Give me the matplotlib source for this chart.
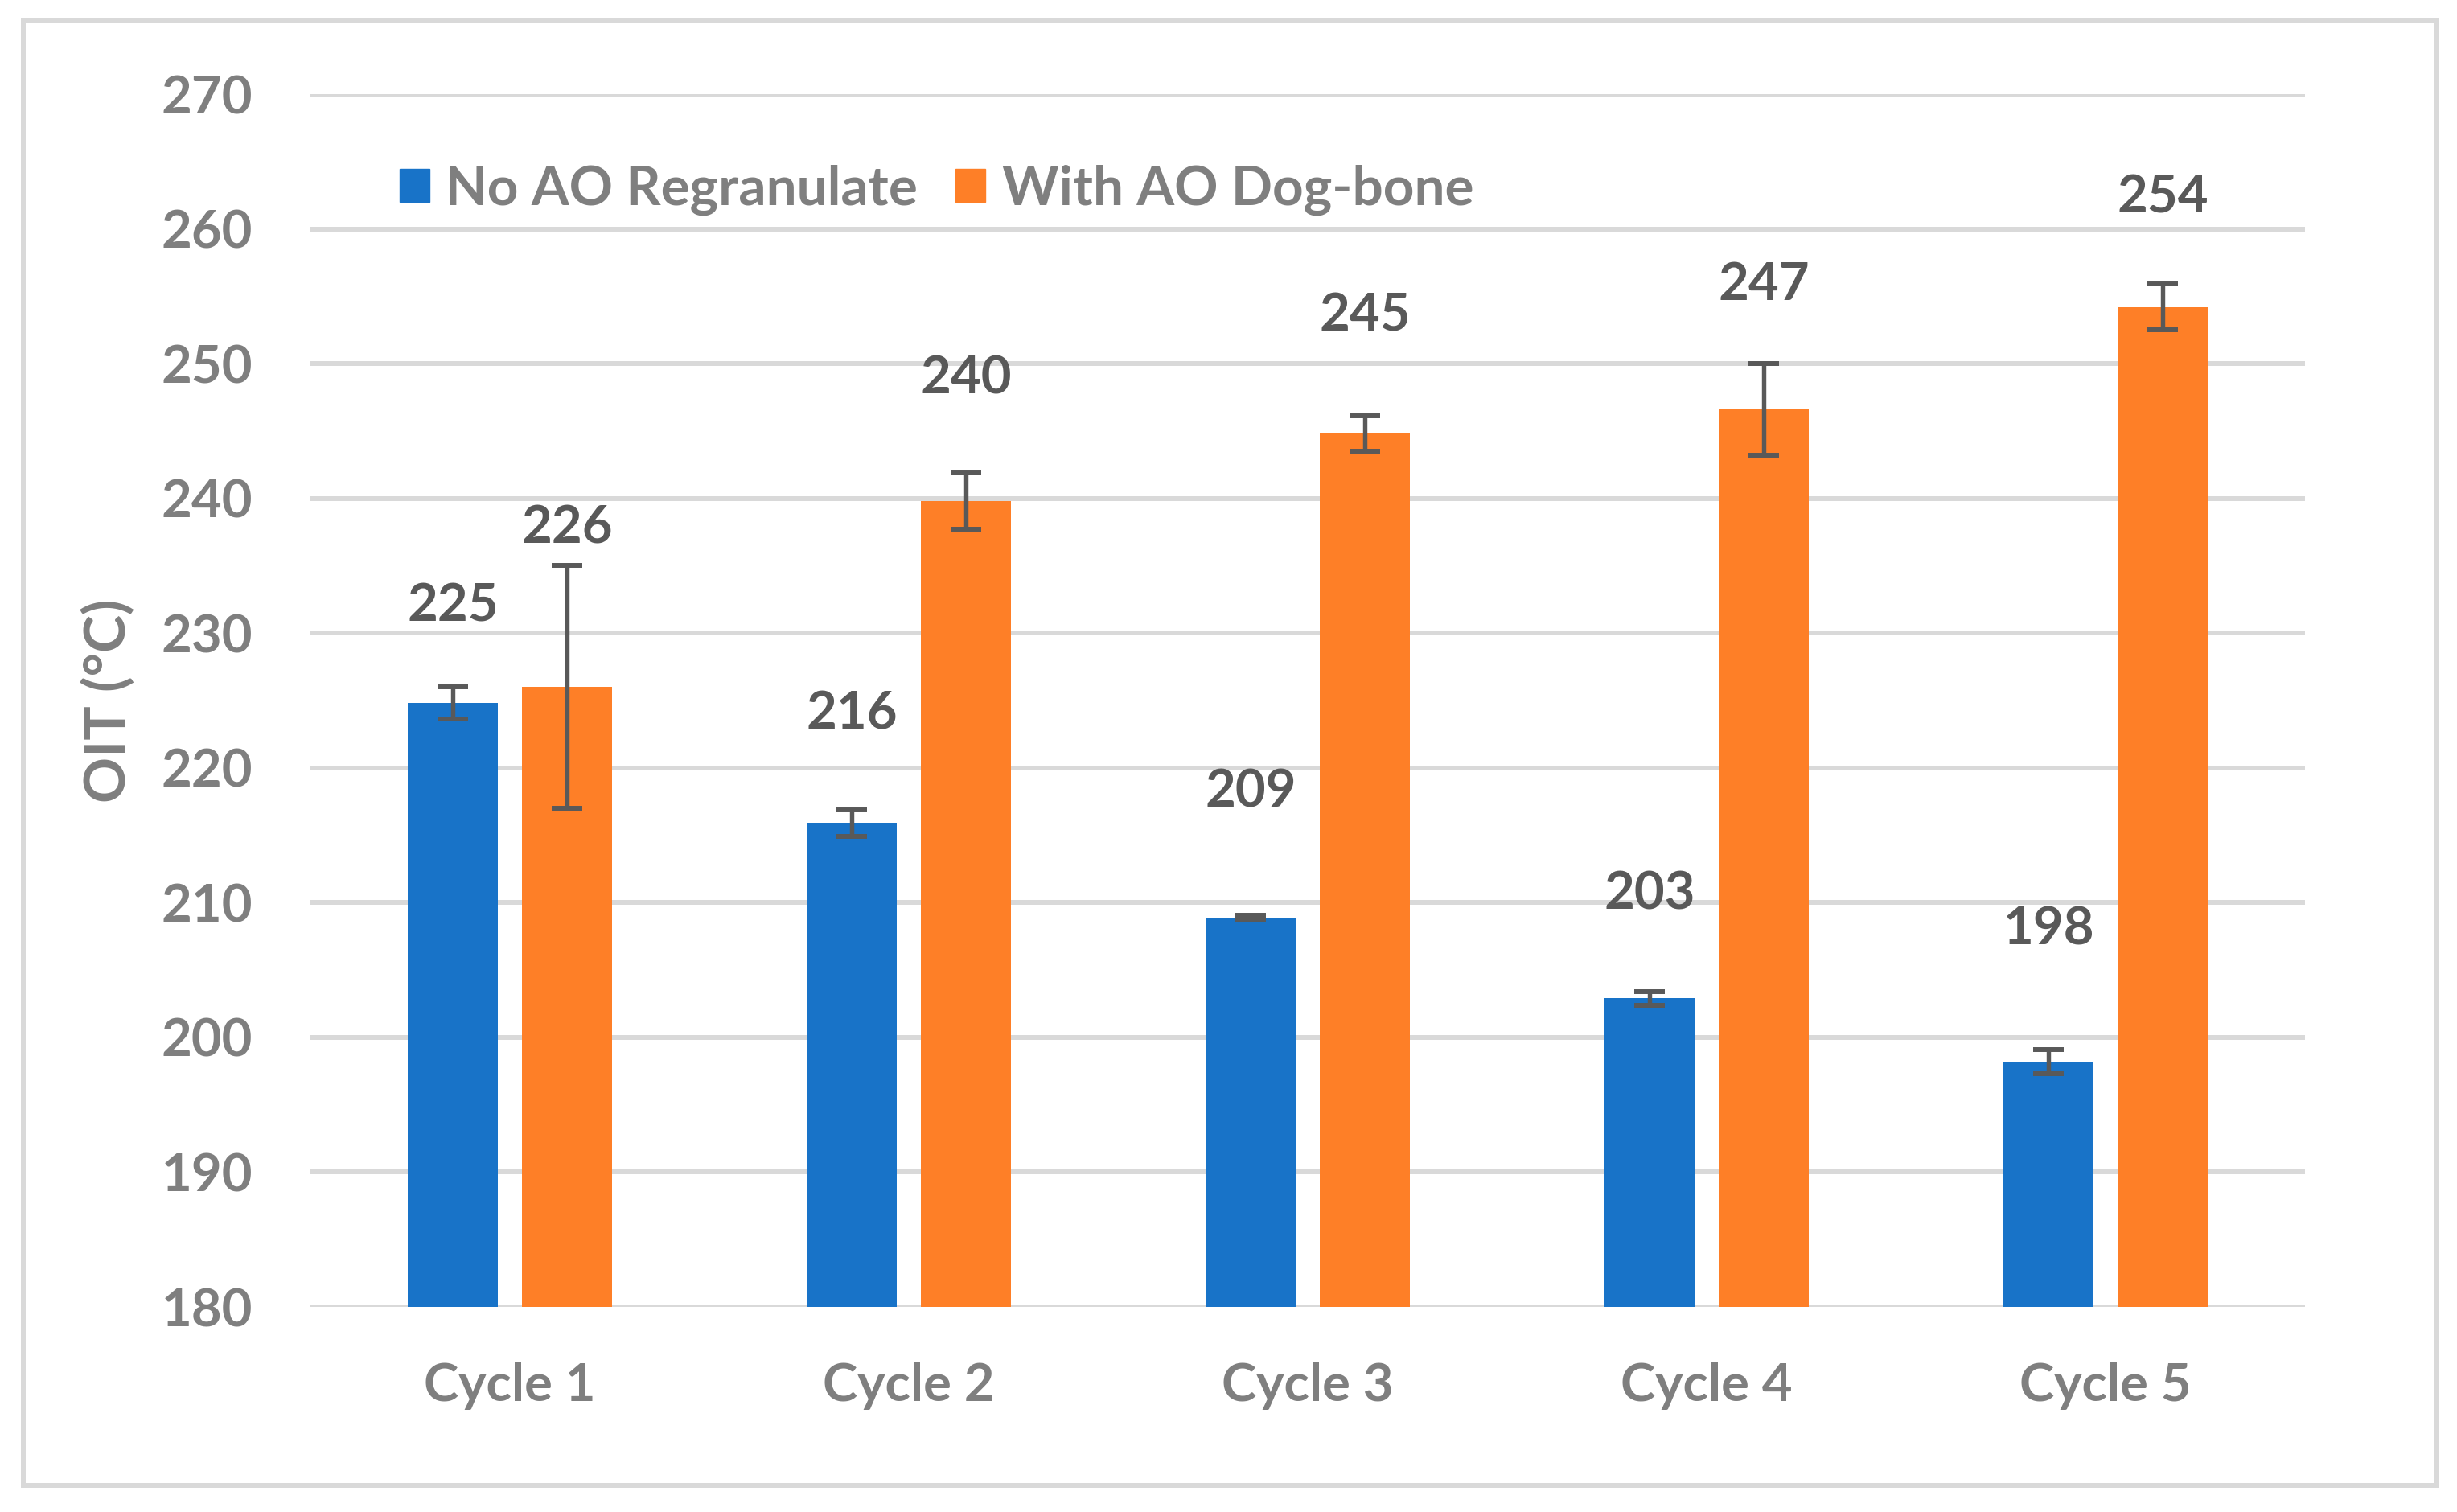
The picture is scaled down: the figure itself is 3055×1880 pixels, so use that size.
import numpy as np
import matplotlib.pyplot as plt
from matplotlib.patches import Rectangle, Patch

# data
cycles = ['Cycle 1', 'Cycle 2', 'Cycle 3', 'Cycle 4', 'Cycle 5']
no_ao = [224.8, 215.9, 208.9, 202.9, 198.2]
no_ao_err = [1.2, 1.0, 0.15, 0.5, 0.9]
with_ao = [226.0, 239.8, 244.8, 246.6, 254.2]
with_ao_err = [9.0, 2.1, 1.3, 3.4, 1.7]
no_ao_labels = ['225', '216', '209', '203', '198']
with_ao_labels = ['226', '240', '245', '247', '254']
# label heights (data units), placed by hand in the original
no_ao_label_y = [232.0, 224.0, 218.2, 210.6, 208.0]
with_ao_label_y = [237.8, 248.9, 253.5, 255.8, 262.3]

blue = '#1873C8'
orange = '#FE7F27'
grey = '#7F7F7F'
dark = '#595959'
grid = '#D9D9D9'

plt.rcParams['font.family'] = ['Lato', 'DejaVu Sans']
plt.rcParams['font.weight'] = 'bold'

W, H = 3055, 1880
fig = plt.figure(figsize=(W / 100, H / 100), dpi=100)
ax = fig.add_axes([386 / W, 1 - 1625 / H, (2866 - 386) / W, (1625 - 117) / H])

x = np.arange(len(cycles))
bw = 0.227
off = 0.143

ax.bar(x - off, no_ao, bw, color=blue, zorder=3)
ax.bar(x + off, with_ao, bw, color=orange, zorder=3)
ekw = dict(fmt='none', ecolor=dark, elinewidth=3.9, capsize=13.5, capthick=4.3, zorder=4)
ax.errorbar(x - off, no_ao, yerr=no_ao_err, **ekw)
ax.errorbar(x + off, with_ao, yerr=with_ao_err, **ekw)

for i in range(len(cycles)):
    ax.text(x[i] - off, no_ao_label_y[i], no_ao_labels[i], ha='center', va='center',
            fontsize=47, color=dark, fontweight='bold', zorder=5)
    ax.text(x[i] + off, with_ao_label_y[i], with_ao_labels[i], ha='center', va='center',
            fontsize=47, color=dark, fontweight='bold', zorder=5)

ax.set_ylim(180, 270)
ax.set_xlim(-0.5, len(cycles) - 0.5)
ax.set_yticks(np.arange(180, 271, 10))
ax.set_xticks(x)
ax.set_xticklabels(cycles)
ax.yaxis.grid(True, color=grid, linewidth=4.3, zorder=0)
ax.set_axisbelow(True)
for s in ax.spines.values():
    s.set_visible(False)
ax.tick_params(axis='both', length=0, labelsize=47, labelcolor=grey)
ax.tick_params(axis='y', pad=52)
ax.tick_params(axis='x', pad=50)
for lab in ax.get_xticklabels() + ax.get_yticklabels():
    lab.set_fontweight('bold')

fig.text(134 / W, 1 - 871 / H, 'OIT (°C)', rotation=90, ha='center', va='center',
         fontsize=51, color=grey, fontweight='bold')

handles = [Patch(color=blue), Patch(color=orange)]
leg = fig.legend(handles, ['No AO Regranulate', 'With AO Dog-bone'], loc='center left',
                 bbox_to_anchor=(497 / W, 1 - 236 / H), ncol=2, frameon=False,
                 borderpad=0, borderaxespad=0, handlelength=0.55, handleheight=0.55,
                 handletextpad=0.3, columnspacing=0.7,
                 prop={'size': 48.5, 'weight': 'bold'})
for t in leg.get_texts():
    t.set_color(grey)

# chart border
fig.patches.append(Rectangle((29 / W, 1 - 1847 / H), (3030 - 29) / W, (1847 - 25) / H,
                             transform=fig.transFigure, fill=False, edgecolor=grid,
                             linewidth=4.3))

fig.savefig('out.png', dpi=100, facecolor='white')
